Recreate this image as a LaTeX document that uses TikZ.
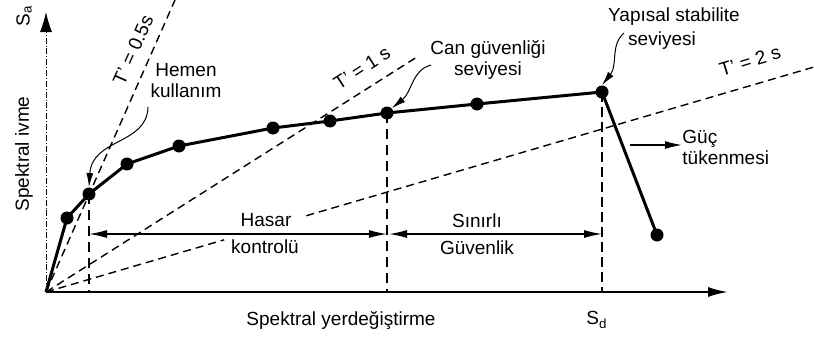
\documentclass[tikz,border=0pt]{standalone}
\usepackage{fontspec}
\setmainfont{Liberation Sans}
\usetikzlibrary{arrows.meta,calc}

\begin{document}
\begin{tikzpicture}[x=0.5pt,y=-0.5pt,
	dot/.style={circle,fill=black,inner sep=0,minimum size=6.5pt},
	lbl/.style={font=\fontsize{9.5}{10.5}\selectfont,inner sep=0},
	period/.style={line width=0.7pt,dash pattern=on 4pt off 2.5pt},
	drop/.style={line width=0.6pt,dash pattern=on 5pt off 3pt},
	pointer/.style={line width=0.5pt,-{Latex[length=7pt,width=3.5pt]}},
	zonearrow/.style={line width=0.7pt,{Latex[length=9pt,width=4pt]}-{Latex[length=9pt,width=4pt]}}]
	\useasboundingbox (0,0) rectangle (814,337);

	% axes
	\coordinate (O) at (46,292);
	\coordinate (xend) at (728,292);
	\coordinate (yend) at (46,12);
	\draw[line width=1pt,-{Latex[length=10pt,width=5pt]}] (O) -- (xend);
	\draw[line width=0.4pt,densely dash dot,-{Latex[length=10pt,width=6pt]}] (O) -- (yend);

	% period lines
	\coordinate (t05) at (175,0);
	\coordinate (t1) at (417,57);
	\coordinate (t2) at (814,67);
	\draw[period] (O) -- (t05);
	\draw[period] (O) -- (t1);
	\draw[period] (O) -- ($(O)!0.232!(t2)$);
	\draw[period] ($(O)!0.339!(t2)$) -- (t2);
	\node[lbl,rotate=66] (l05) at (133,50) {T' = 0.5s};
	\node[lbl,rotate=33] (l1) at (362,68) {T' = 1 s};
	\node[lbl,rotate=17] (l2) at (750,61) {T' = 2 s};

	% capacity curve
	\foreach \n/\x/\y in {1/67/218, 2/89/194, 3/127/164, 4/179/146, 5/273/128,
		6/330/121, 7/387/113, 8/477/104, 9/602/92, 10/657/235}
		\node[dot] (p\n) at (\x,\y) {};
	\draw[line width=1.5pt,line join=round] (O) foreach \n in {1,...,10} { -- (p\n.center) };

	% performance levels
	\draw[drop] (p2.center) -- (p2 |- O);
	\draw[drop] (p7.center) -- (p7 |- O);
	\draw[drop,line width=1pt,dash pattern=on 5pt off 2.5pt] (p9.center) -- (p9 |- O);

	\coordinate (arr) at (0,234);
	\draw[zonearrow] (p2 |- arr) -- (p7 |- arr);
	\draw[zonearrow] ($(p7 |- arr)+(2,0)$) -- (p9 |- arr);

	\node[lbl] (h1) at (266,220) {Hasar};
	\node[lbl] (h2) at (265,247) {kontrolü};
	\node[lbl] (s1) at (477,221) {Sınırlı};
	\node[lbl] (s2) at (477,248) {Güvenlik};

	\node[lbl,align=center] (hk) at (186,81) {Hemen\\kullanım};
	\node[lbl,align=center] (cg) at (488,60) {Can güvenliği\\seviyesi};
	\node[lbl] (ys1) at (674,17) {Yapısal stabilite};
	\node[lbl] (ys2) at (662,41) {seviyesi};
	\node[lbl,align=left,anchor=west] (gt) at (682,147) {Güç\\tükenmesi};

	\coordinate (hkstart) at (148,107);
	\coordinate (cgstart) at (431,65);
	\coordinate (ysstart) at (624,33);
	\coordinate (gtstart) at (630,145);
	\draw[pointer] (hkstart) .. controls (147,145) and (92,138) .. (p2.north);
	\draw[pointer] (cgstart) .. controls (412,70) and (412,92) .. (p7.north east);
	\draw[pointer] (ysstart) .. controls (610,45) and (618,65) .. (p9.north);
	\draw[line width=0.7pt,-{Latex[length=8.5pt,width=4pt]}] (gtstart) -- (gt.west |- gtstart);

	% axis labels
	\node[lbl,rotate=90] (sa) at (24,16) {S\textsubscript{a}};
	\node[lbl,rotate=90] (sv) at (24,154) {Spektral ivme};
	\node[lbl] (sy) at (341,321) {Spektral yerdeğiştirme};
	\node[lbl] (sd) at (597,320) {S\textsubscript{d}};
\end{tikzpicture}
\end{document}
